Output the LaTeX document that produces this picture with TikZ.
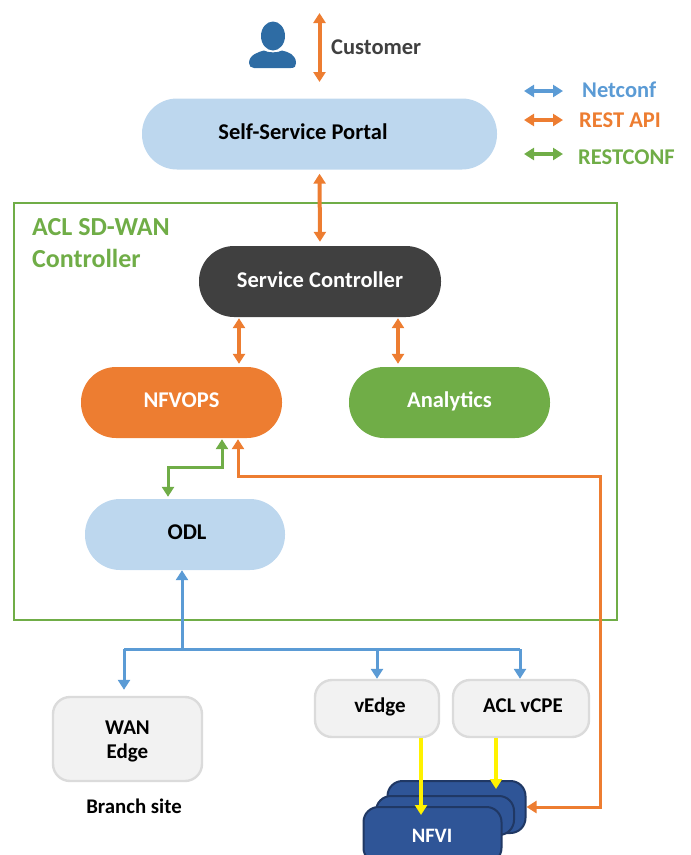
\documentclass[tikz,border=0pt]{standalone}
\usepackage{fontspec}
\setmainfont{Carlito}
\usetikzlibrary{arrows.meta}
\definecolor{cblue}{HTML}{5B9BD5}
\definecolor{corange}{HTML}{ED7D31}
\definecolor{cgreen}{HTML}{70AD47}
\definecolor{cpale}{HTML}{BDD7EE}
\definecolor{cdark}{HTML}{404040}
\definecolor{cnavy}{HTML}{2F5597}
\definecolor{cnavyd}{HTML}{203864}
\definecolor{cperson}{HTML}{2E6CA4}
\tikzset{
  x=1pt,y=-1pt,
  pill/.style={rounded corners=35pt,minimum height=71pt,inner sep=0pt,draw=none,text height=12pt,text depth=2pt,font=\fontsize{22.5}{26}\selectfont\bfseries},
  edgebox/.style={rounded corners=17pt,fill=black!5,draw=black!14,line width=2.4pt,inner sep=0pt,align=center,text=black,font=\fontsize{21}{24}\selectfont\bfseries},
  nfvibox/.style={rounded corners=15pt,fill=cnavy,draw=cnavyd,line width=2pt,inner sep=0pt,minimum width=138pt,minimum height=56pt},
  lab/.style={inner sep=0pt,font=\fontsize{22.5}{26}\selectfont\bfseries},
  bi/.style={line width=#1,{Triangle[width=12pt,length=10pt]}-{Triangle[width=12pt,length=10pt]}},
  uni/.style={line width=#1,-{Triangle[width=12pt,length=10pt]}},
}
\begin{document}
\begin{tikzpicture}
\clip (0,0) rectangle (691,855);
% frame
\node[draw=cgreen,line width=2.8pt,minimum width=603pt,minimum height=417pt,inner sep=0pt] (frame) at (315.5,411.5) {};
% main nodes
\node[pill,fill=cpale,text=black,minimum width=355pt] (portal) at (319.5,134) {Self-Service Portal\rule{33pt}{0pt}};
\node[pill,fill=cdark,text=white,minimum width=242pt,text depth=1pt] (sc) at (320,281.5) {Service Controller};
\node[pill,fill=corange,text=white,minimum width=201pt] (nfvops) at (181.5,402.5) {NFVOPS};
\node[pill,fill=cgreen,text=white,minimum width=201pt] (analytics) at (449.5,402.5) {Analytics};
\node[pill,fill=cpale,text=black,minimum width=200pt] (odl) at (185,534.5) {\hspace{4pt}ODL};
\node[edgebox,minimum width=149pt,minimum height=84pt] (wan) at (127.5,739) {\rule{0pt}{18pt}WAN\\Edge};
\node[edgebox,minimum width=124pt,minimum height=57pt,text height=11pt,text depth=4pt] (vedge) at (377,708.5) {\hspace{6pt}vEdge};
\node[edgebox,minimum width=136pt,minimum height=57pt,text height=11pt,text depth=4pt] (vcpe) at (521,708.5) {\hspace{4pt}ACL vCPE};
\node[nfvibox,minimum height=52pt] (nfvic) at (456.5,807) {};
\node[nfvibox,minimum height=39pt] (nfvib) at (445,815.5) {};
\node[nfvibox] (nfvia) at (432.5,835) {};
\node[inner sep=0pt,text=white,font=\fontsize{20.5}{24}\selectfont\bfseries] (nfvitext) at (432,836) {NFVI};
% texts
\node[lab,anchor=west,text=cdark] (customer) at (331,47) {Customer};
\node[lab,anchor=west,text=cblue] (tnet) at (582,90) {Netconf};
\node[lab,anchor=west,text=corange] (trest) at (579,120) {REST API};
\node[lab,anchor=west,text=cgreen] (tconf) at (578,157) {RESTCONF};
\node[anchor=west,inner sep=0pt,text=cgreen,align=left,font=\fontsize{26}{32}\selectfont\bfseries] (title) at (32,243) {ACL SD-WAN\\Controller};
\node[inner sep=0pt,text=black,font=\fontsize{20.8}{24}\selectfont\bfseries] (branch) at (134,806) {Branch site};
% person
\fill[cperson] (273,36) ellipse [x radius=12,y radius=14.5];
\fill[cperson] (249,63) .. controls (249,55) and (258,52) .. (264,50.5) .. controls (268,53) and (278,53) .. (282,50.5) .. controls (289,52) and (296,55) .. (296,63) .. controls (296,66) and (295,68) .. (291,68) -- (254,68) .. controls (251,68) and (249,66) .. (249,63) -- cycle;
% helper coordinates
\coordinate (custtop) at (319.5,13);
\coordinate (custbot) at (319.5,82);
\coordinate (xa) at (239,0);
\coordinate (xb) at (398,0);
\coordinate (xg) at (222,0);
\coordinate (xo) at (238,0);
\coordinate (xl) at (168,0);
\coordinate (xm) at (182,0);
\coordinate (xw) at (124,0);
\coordinate (xv) at (377,0);
\coordinate (xc) at (520,0);
\coordinate (xy) at (421,0);
\coordinate (xz) at (496,0);
\coordinate (bus) at (182,649);
\coordinate (gj1) at (222,467);
\coordinate (gj2) at (168,467);
\coordinate (oj1) at (238,476);
\coordinate (oj2) at (600,476);
\coordinate (oj3) at (600,807);
\coordinate (leg1a) at (524,91);
\coordinate (leg1b) at (563,91);
\coordinate (leg2a) at (524,120);
\coordinate (leg2b) at (563,120);
\coordinate (leg3a) at (524,154);
\coordinate (leg3b) at (563,154);
\coordinate (yend1) at (421,815);
\coordinate (yend2) at (496,789);
% orange
\draw[bi=4pt,corange] (custtop) -- (custbot);
\draw[bi=4pt,corange,shorten <=4pt,shorten >=4pt] (portal.south) -- (sc.north);
\draw[bi=4pt,corange,shorten <=1pt,shorten >=3pt] (sc.south -| xa) -- (nfvops.north -| xa);
\draw[bi=4pt,corange,shorten <=1pt,shorten >=3pt] (sc.south -| xb) -- (analytics.north -| xb);
\draw[bi=3pt,corange,shorten >=1pt] (nfvic.east |- oj3) -- (oj3) -- (oj2) -- (oj1) -- (nfvops.south -| xo);
% green
\draw[bi=3pt,cgreen,shorten <=1pt,shorten >=2pt] (nfvops.south -| xg) -- (gj1) -- (gj2) -- (odl.north -| xl);
% blue
\draw[uni=3pt,cblue] (bus) -- (odl.south -| xm);
\draw[cblue,line width=3pt] (bus -| xw) -- (bus -| xc);
\draw[uni=3pt,cblue] (bus -| xw) -- ([yshift=6pt]wan.north -| xw);
\draw[uni=3pt,cblue] (bus -| xv) -- (vedge.north -| xv);
\draw[uni=3pt,cblue] (bus -| xc) -- (vcpe.north -| xc);
% yellow
\draw[uni=3.3pt,yellow] (vedge.south -| xy) -- (yend1);
\draw[uni=3.3pt,yellow] (vcpe.south -| xz) -- (yend2);
% legend
\draw[bi=3.5pt,cblue] (leg1a) -- (leg1b);
\draw[bi=3.5pt,corange] (leg2a) -- (leg2b);
\draw[bi=3.5pt,cgreen] (leg3a) -- (leg3b);
\end{tikzpicture}
\end{document}
